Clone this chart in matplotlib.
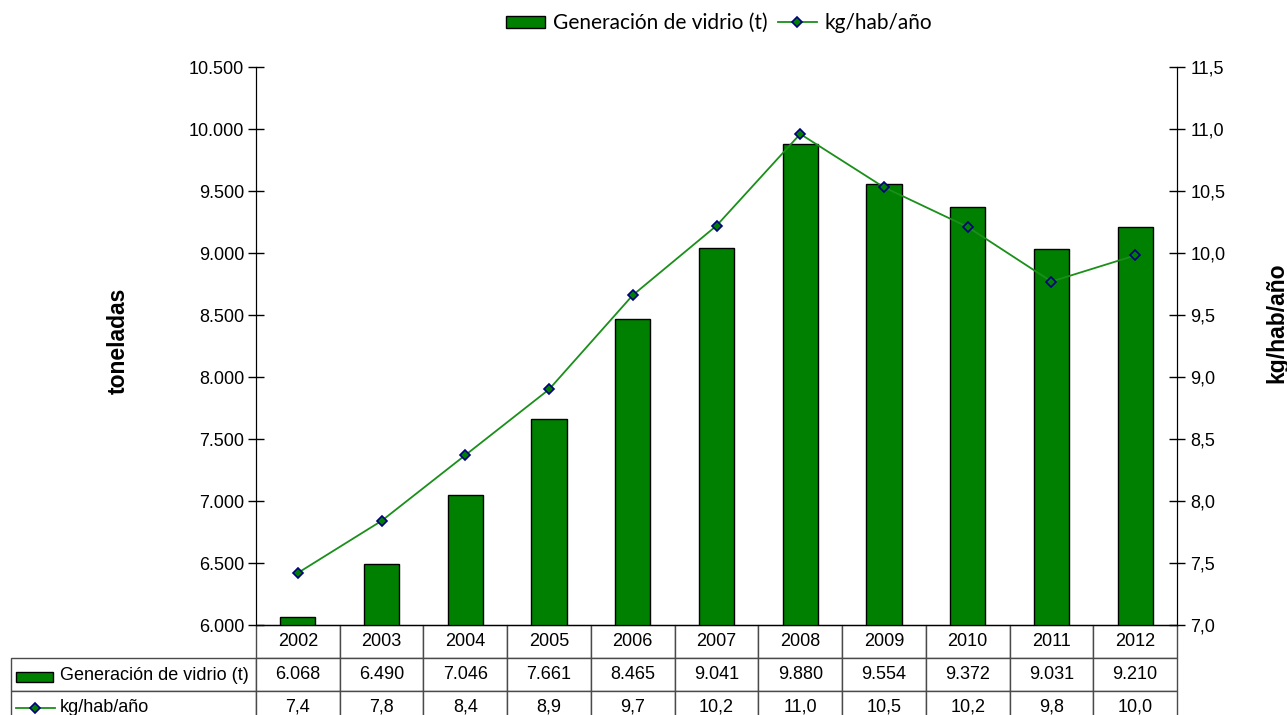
import matplotlib.pyplot as plt
import matplotlib as mpl
from matplotlib.patches import Rectangle
from matplotlib.lines import Line2D
from matplotlib.ticker import FuncFormatter, MultipleLocator

mpl.rcParams['font.family'] = ['Liberation Sans', 'DejaVu Sans']

years = ['2002', '2003', '2004', '2005', '2006', '2007',
         '2008', '2009', '2010', '2011', '2012']
vidrio_t = [6068, 6490, 7046, 7661, 8465, 9041, 9880, 9554, 9372, 9031, 9210]
kg_hab = [7.42, 7.84, 8.37, 8.90, 9.66, 10.22, 10.96, 10.53, 10.21, 9.77, 9.98]

serie_barras = 'Generación de vidrio (t)'
serie_linea = 'kg/hab/año'

verde = '#008000'
verde_linea = '#1a8f1a'
azul = '#000080'


def miles(v, _pos=None):
    return f'{v:,.0f}'.replace(',', '.')


def decimal(v, _pos=None):
    return f'{v:.1f}'.replace('.', ',')


W, H = 1287, 715
fig = plt.figure(figsize=(W / 100, H / 100), dpi=100)
x0, x1, y0, y1 = 256, 1177, 67, 625
ax = fig.add_axes([x0 / W, (H - y1) / H, (x1 - x0) / W, (y1 - y0) / H])
ax_w, ax_h = x1 - x0, y1 - y0

xs = list(range(len(years)))
ax.bar(xs, vidrio_t, width=0.42, color=verde, edgecolor='black', linewidth=1.0,
       zorder=2)
ax.set_xlim(-0.5, len(years) - 0.5)
ax.set_ylim(6000, 10500)
ax.yaxis.set_major_locator(MultipleLocator(500))
ax.yaxis.set_major_formatter(FuncFormatter(miles))
ax.set_xticks([])
ax.tick_params(axis='y', direction='inout', length=11, width=1, pad=3,
               labelsize=13)
ax.spines['top'].set_visible(False)
ax.set_ylabel('toneladas', fontsize=16.5, fontweight='bold')
ax.yaxis.set_label_coords((130 - x0) / ax_w, (y1 - 341) / ax_h)

ax2 = ax.twinx()
ax2.plot(xs, kg_hab, color=verde_linea, linewidth=1.3, marker='D',
         markersize=5.5, markerfacecolor=verde, markeredgecolor=azul,
         markeredgewidth=1.2, zorder=3)
ax2.set_ylim(7.0, 11.5)
ax2.yaxis.set_major_locator(MultipleLocator(0.5))
ax2.yaxis.set_major_formatter(FuncFormatter(decimal))
ax2.tick_params(axis='y', direction='inout', length=11, width=1, pad=4,
                labelsize=13)
ax2.spines['top'].set_visible(False)
ax2.set_ylabel('kg/hab/año', fontsize=16.5, fontweight='bold', rotation=90)
ax2.yaxis.set_label_coords((1265 - x0) / ax_w, (y1 - 323) / ax_h)

# tabla de datos bajo el gráfico; la primera columna lleva el nombre de la serie
celdas = [[''] + [miles(v) for v in vidrio_t],
          [''] + [decimal(v) for v in kg_hab]]
col_lbl = (x0 - 11) / ax_w
fila_h = 33 / ax_h
tabla = ax.table(cellText=celdas, colLabels=[''] + years, cellLoc='center',
                 colLoc='center',
                 colWidths=[col_lbl] + [1 / len(years)] * len(years),
                 bbox=[-col_lbl, -3 * fila_h, 1 + col_lbl, 3 * fila_h])
tabla.auto_set_font_size(False)
tabla.set_fontsize(13)
for (r, c), cell in tabla.get_celld().items():
    cell.set_edgecolor('#4a4a4a')
    cell.set_linewidth(1.0)
tabla[0, 0].visible_edges = ''


def px(xp, yp):
    return (xp - x0) / ax_w, (y1 - yp) / ax_h


# nombres de serie con su muestra
for nombre, yp in [(serie_barras, 675), (serie_linea, 708)]:
    tx, ty = px(60, yp)
    ax.text(tx, ty, nombre, transform=ax.transAxes, ha='left', va='center',
            fontsize=13, clip_on=False)

sx, sy = px(16, 682)
ax.add_patch(Rectangle((sx, sy), 37 / ax_w, 10 / ax_h, transform=ax.transAxes,
                       facecolor=verde, edgecolor='black', linewidth=1,
                       clip_on=False))
lx0, ly = px(16, 708)
lx1, _ = px(55, 708)
mx, _ = px(35, 708)
ax.add_line(Line2D([lx0, lx1], [ly, ly], transform=ax.transAxes,
                   color=verde_linea, linewidth=1.3, clip_on=False))
ax.add_line(Line2D([mx], [ly], transform=ax.transAxes, marker='D',
                   markersize=5.5, markerfacecolor=verde, markeredgecolor=azul,
                   markeredgewidth=1.2, clip_on=False))

# leyenda superior
h_bar = Rectangle((0, 0), 1, 1, facecolor=verde, edgecolor='black', linewidth=1)
h_lin = Line2D([], [], color=verde_linea, linewidth=1.3, marker='D',
               markersize=5.5, markerfacecolor=verde, markeredgecolor=azul,
               markeredgewidth=1.2)
ax.legend([h_bar, h_lin], [serie_barras, serie_linea], ncol=2, frameon=False,
          loc='center', bbox_to_anchor=((719 - x0) / ax_w, (y1 - 23) / ax_h),
          prop={'family': ['Lato', 'DejaVu Sans'], 'size': 15},
          handlelength=1.9, handleheight=0.5, handletextpad=0.35,
          columnspacing=0.5)

fig.savefig('out.png', dpi=100)
